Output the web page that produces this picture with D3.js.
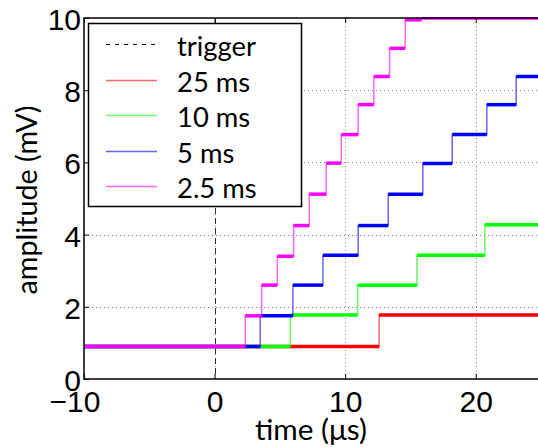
<!DOCTYPE html>
<html><head><meta charset="utf-8">
<script src="https://cdn.jsdelivr.net/npm/d3@7"></script>
<style>body{margin:0;background:#fff}svg{display:block}</style>
</head><body><svg id="c" width="538" height="447"></svg>
<script>
// ---- data ----
const xTicks = [-10, 0, 10, 20];
const yTicks = [0, 2, 4, 6, 8, 10];
const triggerTime = 0;
const seriesNames = ["25 ms", "10 ms", "5 ms", "2.5 ms"];
const seriesColors = ["#ff0000", "#00ff00", "#0000ff", "#ff00ff"];
const legendColors = ["#ff6666", "#66ff66", "#6666ff", "#ff66ff"];
const redTimes = [-10, 12.6];
const redLevels = [0.9, 1.77];
const greenTimes = [-10, 5.8, 10.95, 15.5, 20.7];
const greenLevels = [0.9, 1.77, 2.6, 3.43, 4.27];
const blueTimes = [-10, 3.5, 6.0, 8.3, 11.0, 13.3, 15.95, 18.2, 20.85, 23.1];
const blueLevels = [0.9, 1.75, 2.6, 3.43, 4.25, 5.12, 5.97, 6.77, 7.6, 8.38];
const magentaTimes = [-10, 2.35, 3.6, 4.8, 6.05, 7.25, 8.55, 9.7, 11.0, 12.2, 13.4, 14.6, 15.85];
const magentaLevels = [0.9, 1.75, 2.6, 3.4, 4.25, 5.12, 5.98, 6.77, 7.6, 8.38, 9.16, 9.95, 10.0];

const seriesTimes = [redTimes, greenTimes, blueTimes, magentaTimes];
const seriesLevels = [redLevels, greenLevels, blueLevels, magentaLevels];

// ---- layout ----
const svg = d3.select("#c");
const L = 84, R = 541, T = 18, B = 379;
const x = d3.scaleLinear().domain([-10, 25]).range([L, R]);
const y = d3.scaleLinear().domain([0, 10]).range([B, T]);
const tickFont = "'Liberation Sans', Arial, sans-serif";
const labFont = "Lato, 'Open Sans', sans-serif";

svg.append("defs").append("clipPath").attr("id", "clip")
  .append("rect").attr("x", L).attr("y", T - 1).attr("width", R - L).attr("height", B - T + 1);

// grid
const grid = svg.append("g").attr("stroke", "#888").attr("stroke-width", 1).attr("stroke-dasharray", "1,3");
grid.selectAll("line.v").data(xTicks.filter(d => d > -10)).join("line")
  .attr("x1", d => Math.round(x(d)) + 0.5).attr("x2", d => Math.round(x(d)) + 0.5)
  .attr("y1", T).attr("y2", B);
grid.selectAll("line.h").data(yTicks.filter(d => d > 0 && d < 10)).join("line").attr("class", "h")
  .attr("x1", L).attr("x2", R)
  .attr("y1", d => Math.round(y(d)) + 0.5).attr("y2", d => Math.round(y(d)) + 0.5);

// trigger line
svg.append("line")
  .attr("x1", Math.round(x(triggerTime)) + 0.5).attr("x2", Math.round(x(triggerTime)) + 0.5)
  .attr("y1", T).attr("y2", B)
  .attr("stroke", "#333").attr("stroke-width", 1).attr("stroke-dasharray", "6,4");

// series
const line = d3.line().x(d => x(d[0])).y(d => y(d[1])).curve(d3.curveStepAfter);
const gS = svg.append("g").attr("clip-path", "url(#clip)");
seriesTimes.forEach((ts, i) => {
  const lv = seriesLevels[i];
  const pts = ts.map((t, j) => [t, lv[j]]);
  pts.push([25, lv[lv.length - 1]]);
  // light full trace (rises)
  gS.append("path").datum(pts).attr("d", line)
    .attr("fill", "none").attr("stroke", seriesColors[i]).attr("stroke-opacity", 0.6).attr("stroke-width", 1.5);
  // saturated plateaus
  const segs = ts.map((t, j) => [t, j + 1 < ts.length ? ts[j + 1] : 25, lv[j]]);
  gS.selectAll(null).data(segs).join("line")
    .attr("x1", d => x(d[0])).attr("x2", d => x(d[1]))
    .attr("y1", d => y(d[2])).attr("y2", d => y(d[2]))
    .attr("stroke", seriesColors[i]).attr("stroke-width", 3.5);
});

// frame
svg.append("rect").attr("x", L).attr("y", T).attr("width", R - L).attr("height", B - T)
  .attr("fill", "none").attr("stroke", "#000").attr("stroke-width", 1.5);

// axes (inward ticks)
const xa = svg.append("g").attr("transform", `translate(0,${B})`)
  .call(d3.axisBottom(x).tickValues(xTicks).tickSizeInner(-5).tickSizeOuter(0).tickPadding(12).tickFormat(d => d < 0 ? "\u2212" + Math.abs(d) : d));
xa.select(".domain").remove();
xa.selectAll("text").attr("font-family", tickFont).attr("font-size", 30).attr("fill", "#000")
  .attr("dx", d => d < 0 ? -9.5 : 0);
xa.selectAll("line").attr("stroke", "#000");
const xt = svg.append("g").attr("transform", `translate(0,${T})`)
  .call(d3.axisTop(x).tickValues(xTicks).tickSizeInner(-5).tickSizeOuter(0).tickFormat(""));
xt.select(".domain").remove();

const ya = svg.append("g").attr("transform", `translate(${L},0)`)
  .call(d3.axisLeft(y).tickValues(yTicks).tickSizeInner(-5).tickSizeOuter(0).tickPadding(3));
ya.select(".domain").remove();
ya.selectAll("text").attr("font-family", tickFont).attr("font-size", 30).attr("fill", "#000").attr("dy", "0.38em");

// fit text width helper
function fitText(sel, target) {
  const w = sel.node().getComputedTextLength();
  const fs = +sel.attr("font-size");
  sel.attr("font-size", fs * target / w);
}

// axis labels
const xl = svg.append("text").attr("x", 311).attr("y", 440).attr("text-anchor", "middle")
  .attr("font-family", labFont).attr("font-size", 24).text("time (\u03bcs)");
fitText(xl, 112);
const yl = svg.append("text").attr("transform", "translate(37,200) rotate(-90)").attr("text-anchor", "middle")
  .attr("font-family", labFont).attr("font-size", 24).text("amplitude (mV)");
fitText(yl, 189);

// legend
const lg = svg.append("g");
lg.append("rect").attr("x", 88.5).attr("y", 23.5).attr("width", 213).attr("height", 183)
  .attr("fill", "#fff").attr("stroke", "#000").attr("stroke-width", 1.5);
const legNames = ["trigger"].concat(seriesNames);
const legColors = ["#000"].concat(legendColors);
const rowY = d3.scaleLinear().domain([0, 4]).range([44, 186]);
legNames.forEach((n, i) => {
  const yy = Math.round(rowY(i)) + 0.5;
  lg.append("line").attr("x1", 106).attr("x2", 157).attr("y1", yy).attr("y2", yy)
    .attr("stroke", legColors[i]).attr("stroke-width", i === 0 ? 1 : 1.5)
    .attr("stroke-dasharray", i === 0 ? "4,5" : null);
  const t = lg.append("text").attr("x", 177).attr("y", yy + 11)
    .attr("font-family", labFont).attr("font-size", 24).text(n);
  if (i === 0) fitText(t, 79);
});
const fsLeg = lg.select("text").attr("font-size");
lg.selectAll("text").attr("font-size", fsLeg);
</script></body></html>
